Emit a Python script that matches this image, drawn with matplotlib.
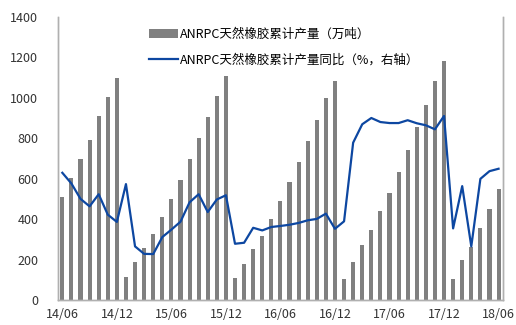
import matplotlib
matplotlib.use("Agg")
import matplotlib.pyplot as plt
import numpy as np

plt.rcParams["font.family"] = ["Noto Sans CJK SC", "DejaVu Sans"]
plt.rcParams["font.size"] = 9

# DATA ##########################################

tick_labels = ["14/06", "14/12", "15/06", "15/12", "16/06", "16/12", "17/06", "17/12", "18/06"]

# ANRPC cumulative output (10k t), monthly 2014/06 .. 2018/06
output = [
    510, 604, 698, 793, 909, 1003, 1097,
    113, 189, 257, 328, 412, 500, 594, 698, 799, 904, 1008, 1107,
    108, 179, 252, 318, 400, 490, 583, 682, 788, 892, 998, 1081,
    103, 190, 273, 346, 438, 528, 632, 743, 856, 963, 1081, 1180,
    103, 197, 262, 356, 450, 550,
]

# YoY line (right axis, unlabelled; read in left-axis units)
yoy = [
    629, 576, 500, 463, 523, 422, 386,
    573, 265, 228, 227, 311, 348, 387, 483, 523, 435, 497, 518,
    278, 283, 357, 344, 361, 366, 372, 381, 394, 401, 427, 352,
    389, 778, 869, 900, 880, 875, 875, 889, 874, 864, 844, 910,
    354, 563, 265, 599, 637, 649,
]

# FIGURE ########################################

fig = plt.figure(figsize=(5.16, 3.25), dpi=100)
ax = fig.add_axes([0.112, 0.077, 0.863, 0.871])
ax2 = ax.twinx()

x = np.arange(len(output))

bars = ax.bar(x, output, width=0.45, color="#808080",
              label="ANRPC天然橡胶累计产量（万吨）")
line, = ax2.plot(x, yoy, color="#0d47a1", linewidth=1.6,
                 label="ANRPC天然橡胶累计产量同比（%，右轴）")

ax.set_xlim(-0.5, len(output) - 0.5)
ax.set_ylim(0, 1400)
ax2.set_ylim(0, 1400)

ax.set_yticks(np.arange(0, 1401, 200))
ax.set_xticks(np.arange(0, len(output), 6))
ax.set_xticklabels(tick_labels)
ax.tick_params(axis="both", length=0, labelsize=9, colors="#333333")
ax.tick_params(axis="y", pad=14)
ax.tick_params(axis="x", pad=6)
ax2.set_yticks([])

for a in (ax, ax2):
    a.spines["top"].set_visible(False)
    for s in ("left", "right", "bottom"):
        a.spines[s].set_color("#b0b0b0")
        a.spines[s].set_linewidth(1.0)

ax.legend(
    handles=[bars, line],
    loc="upper left",
    bbox_to_anchor=(0.18, 1.0),
    frameon=False,
    handlelength=2.3,
    handletextpad=0.2,
    labelspacing=1.0,
    fontsize=9,
)

fig.savefig("out.png", dpi=100)
